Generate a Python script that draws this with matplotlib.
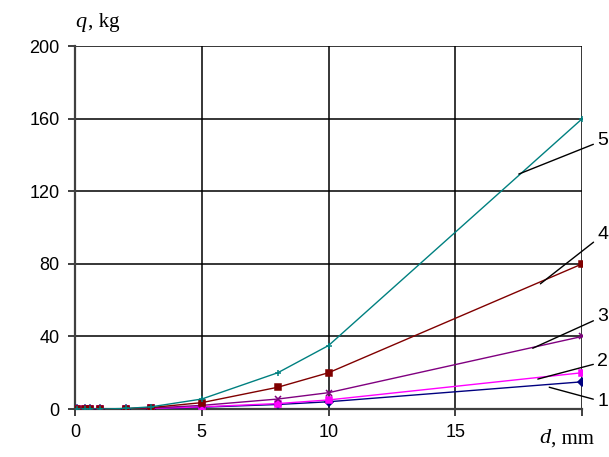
import matplotlib.pyplot as plt

# drop diameter d, mm
d = [0.1, 0.4, 0.6, 1, 2, 3, 5, 8, 10, 20]

# mass q, kg for the five curves
q1 = [0, 0, 0, 0, 0, 0.2, 1, 2.5, 4, 15]
q2 = [0, 0, 0, 0, 0, 0.3, 1.2, 3, 5, 20]
q3 = [0, 0, 0, 0, 0.1, 0.5, 2, 5.5, 9, 40]
q4 = [0, 0, 0, 0, 0.2, 0.8, 3.5, 12, 20, 80]
q5 = [0, 0, 0, 0, 0.3, 1.2, 5.5, 20, 35, 160]

series = [
    (q1, "#000080", "D", "1"),
    (q2, "#FF00FF", "s", "2"),
    (q3, "#800080", "x", "3"),
    (q4, "#800000", "s", "4"),
    (q5, "#008080", "+", "5"),
]

# leader line start (on curve) and label position
leaders = {
    "1": ((18.7, 12), (20.6, 4)),
    "2": ((18.25, 16.5), (20.6, 26)),
    "3": ((18.05, 33.5), (20.6, 51)),
    "4": ((18.35, 69), (20.6, 96)),
    "5": ((17.5, 129.5), (20.6, 148)),
}

fig = plt.figure(figsize=(6.09, 4.57), dpi=100)
ax = fig.add_axes([0.123, 0.105, 0.833, 0.794])

for q, color, marker, name in series:
    ax.plot(d, q, color=color, lw=1.0, marker=marker, ms=4.5,
            mew=1.1, zorder=3)

ax.set_xlim(0, 20)
ax.set_ylim(0, 200)
ax.set_xticks([0, 5, 10, 15, 20])
ax.set_xticklabels(["0", "5", "10", "15", ""])
ax.set_yticks([0, 40, 80, 120, 160, 200])
ax.grid(True, color="black", lw=1.1)
ax.set_axisbelow(True)

for side in ["top", "right"]:
    ax.spines[side].set_visible(False)
for side in ["left", "bottom"]:
    ax.spines[side].set_color("#404040")
    ax.spines[side].set_linewidth(1.6)

ax.tick_params(direction="out", length=5, width=1.4, color="#404040",
               labelsize=13, pad=6)
for lab in ax.get_xticklabels() + ax.get_yticklabels():
    lab.set_family("Liberation Sans")

for name, (xy, xyt) in leaders.items():
    ax.annotate(name, xy=xy, xytext=xyt, annotation_clip=False,
                fontsize=14, family="Liberation Sans", va="center",
                ha="left",
                arrowprops=dict(arrowstyle="-", color="black", lw=1,
                                shrinkA=1, shrinkB=0))

fig.text(0.124, 0.95, "q", fontsize=16, family="Liberation Serif",
         style="italic", ha="left", va="center")
fig.text(0.144, 0.95, ", kg", fontsize=15, family="Liberation Serif",
         ha="left", va="center")
fig.text(0.885, 0.04, "d", fontsize=16, family="Liberation Serif",
         style="italic", ha="left", va="center")
fig.text(0.905, 0.04, ", mm", fontsize=15, family="Liberation Serif",
         ha="left", va="center")

fig.savefig("out.png", dpi=100)
